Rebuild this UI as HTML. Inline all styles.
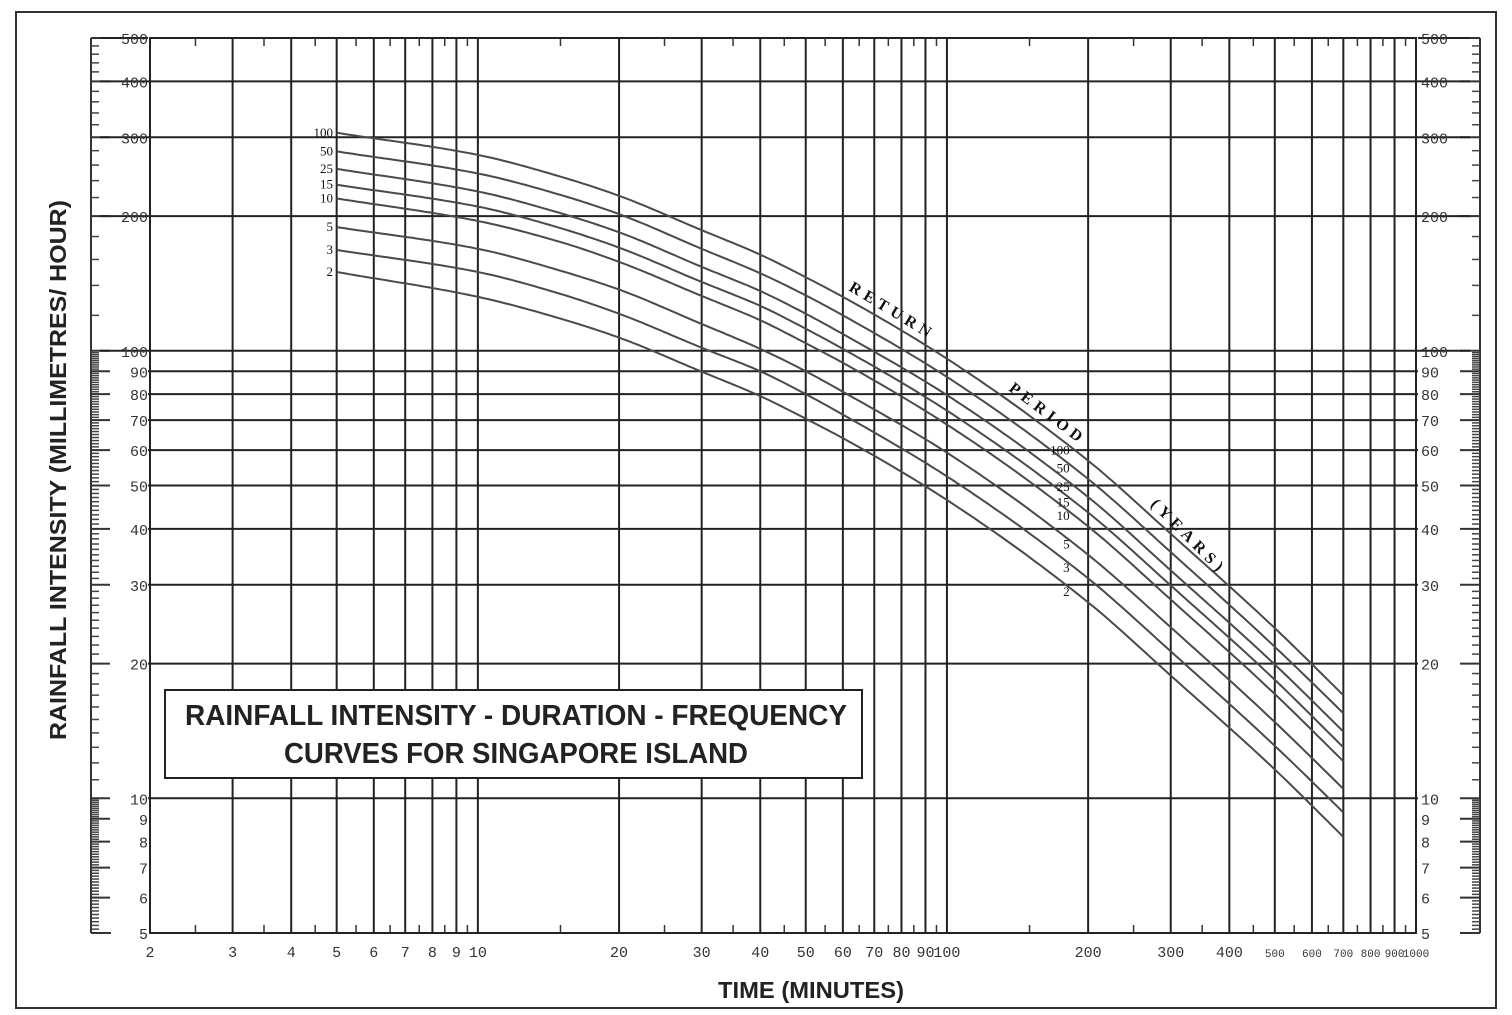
<!DOCTYPE html>
<html><head><meta charset="utf-8">
<style>
html,body{margin:0;padding:0;background:#fff;}
svg{display:block;}
.tk{font-family:"Liberation Mono",monospace;font-size:15px;fill:#333;}
.cl{font-family:"Liberation Serif",serif;font-size:13px;fill:#111;}
.rp{font-family:"Liberation Serif",serif;font-size:16px;font-weight:bold;fill:#111;letter-spacing:5px;}
</style></head>
<body>
<svg id="chart" width="1512" height="1015" viewBox="0 0 1512 1015" xmlns="http://www.w3.org/2000/svg">
<rect x="16" y="12" width="1480" height="996" fill="#fff" stroke="#333" stroke-width="2"/>
<g id="grid"></g>
<g id="curves"></g>
<g id="labels"></g>
<text class="rp" transform="translate(848,290) rotate(31)">RETURN</text>
<text class="rp" transform="translate(1008,390) rotate(37)">PERIOD</text>
<text class="rp" transform="translate(1150,505) rotate(45)">(YEARS)</text>
<g>
<rect x="165" y="690" width="697" height="88" fill="#fff" stroke="#222" stroke-width="2"/>
<text x="516" y="725" text-anchor="middle" textLength="662" lengthAdjust="spacingAndGlyphs" font-family="Liberation Sans, sans-serif" font-size="29" font-weight="bold" fill="#222">RAINFALL INTENSITY - DURATION -  FREQUENCY</text>
<text x="516" y="763" text-anchor="middle" textLength="464" lengthAdjust="spacingAndGlyphs" font-family="Liberation Sans, sans-serif" font-size="29" font-weight="bold" fill="#222">CURVES FOR SINGAPORE ISLAND</text>
</g>
<text transform="translate(66,470) rotate(-90)" text-anchor="middle" textLength="540" lengthAdjust="spacingAndGlyphs" font-family="Liberation Sans, sans-serif" font-size="23" font-weight="bold" fill="#222">RAINFALL INTENSITY  (MILLIMETRES/  HOUR)</text>
<text x="811" y="998" text-anchor="middle" textLength="186" lengthAdjust="spacingAndGlyphs" font-family="Liberation Sans, sans-serif" font-size="23" font-weight="bold" fill="#222">TIME (MINUTES)</text>
</svg>
<script>
const durations = [5,10,15,20,30,40,50,60,100,200,300,500,700];
const periods = ["100","50","25","15","10","5","3","2"];
const s100 = [307,274,245,222,186,164,146,132,96,56.8,39,24,17.0];
const s50  = [279,249,223,202,169,149,133,120,87.4,51.7,35.5,21.8,15.5];
const s25  = [255,227,203,184,154,136,121,109,79.6,47.1,32.3,19.9,14.1];
const s15  = [235,210,188,170,142.5,126,112,101,73.5,43.5,29.9,18.4,13.0];
const s10  = [219,195,175,158,132.6,117,104,94,68.4,40.5,27.8,17.1,12.1];
const s5   = [189,169,151,137,114.8,101,90,81,59.2,35.0,24.1,14.8,10.5];
const s3   = [168,150,134,121,101.6,90,80,72,52.4,31.0,21.3,13.1,9.3];
const s2   = [150,132,118,107,89.8,79.2,70.5,63.8,46.4,27.4,18.8,11.6,8.2];
const xTicks = [2,3,4,5,6,7,8,9,10,20,30,40,50,60,70,80,90,100,200,300,400,500,600,700,800,900,1000];
const yTicks = [5,6,7,8,9,10,20,30,40,50,60,70,80,90,100,200,300,400,500];
const midLabelDur = 190;

const NS="http://www.w3.org/2000/svg";
const X0=150,X1=1416,Y0=933,Y1=38;
function xs(t){return X0+(X1-X0)*Math.log10(t/2)/Math.log10(500);}
function ys(v){return Y0-(Y0-Y1)*Math.log10(v/5)/2;}
function mk(tag,attrs,parent){const e=document.createElementNS(NS,tag);for(const k in attrs)e.setAttribute(k,attrs[k]);parent.appendChild(e);return e;}
const grid=document.getElementById('grid');
const fr=mk('rect',{x:X0,y:Y1,width:X1-X0,height:Y0-Y1,fill:'none',stroke:'#222','stroke-width':2},grid);


[91,1480].forEach((sx,i)=>{
  const l=mk('line',{x1:sx,y1:Y1,x2:sx,y2:Y0,stroke:'#333','stroke-width':2},grid);
  
  
  const ticks=[];
  for(let v=5.1;v<10;v+=0.1)ticks.push(v);
  for(let v=11;v<100;v+=1)ticks.push(v);
  for(let v=120;v<500;v+=20)ticks.push(v);
  ticks.forEach(v=>{const y=ys(v);mk('line',{x1:sx,y1:y,x2:i?sx-8:sx+8,y2:y,stroke:'#444','stroke-width':1.5},grid);});
  mk('line',{x1:sx,y1:Y0,x2:i?sx-20:sx+20,y2:Y0,stroke:'#333','stroke-width':2},grid);
});
yTicks.forEach(v=>{
  const y=ys(v);
  if([10,20,30,40,50,60,70,80,90,100,200,300,400].includes(v)){
    const l=mk('line',{x1:148,y1:y,x2:1418,y2:y,stroke:'#222','stroke-width':2},grid);
    
    
  }
  mk('line',{x1:91,y1:y,x2:110,y2:y,stroke:'#333','stroke-width':2},grid);
  mk('line',{x1:1460,y1:y,x2:1480,y2:y,stroke:'#333','stroke-width':2},grid);
  if(v>=100){mk('line',{x1:100,y1:y,x2:148,y2:y,stroke:'#222','stroke-width':2},grid);mk('line',{x1:1418,y1:y,x2:1470,y2:y,stroke:'#222','stroke-width':2},grid);}
  const tl=mk('text',{x:148,y:y+6,'text-anchor':'end',class:'tk'},grid);tl.textContent=v;
  
  
  const tr=mk('text',{x:1421,y:y+6,'text-anchor':'start',class:'tk'},grid);tr.textContent=v;
  
  
});
xTicks.forEach(t=>{
  const x=xs(t);
  const l=mk('line',{x1:x,y1:Y1,x2:x,y2:Y0,stroke:'#222','stroke-width':2},grid);
  
  
  const small=t>=500;
  const tx=mk('text',{x:x,y:957,'text-anchor':'middle',class:'tk','font-size':small?11:15},grid);tx.textContent=t;
  if(small)tx.setAttribute('style','font-size:11px');
  
  
});
[[2.5,9.5,1],[15,95,10],[150,950,100]].forEach(([a,b,s])=>{
  for(let t=a;t<=b+1e-9;t+=s){const x=xs(t);
    mk('line',{x1:x,y1:Y1,x2:x,y2:Y1+8,stroke:'#333','stroke-width':1.5},grid);
    mk('line',{x1:x,y1:Y0,x2:x,y2:Y0-8,stroke:'#333','stroke-width':1.5},grid);}
});
// monotone cubic (PCHIP) in log-log space
function pchip(xv,yv){
  const n=xv.length,h=[],d=[],m=new Array(n);
  for(let i=0;i<n-1;i++){h.push(xv[i+1]-xv[i]);d.push((yv[i+1]-yv[i])/h[i]);}
  m[0]=d[0];m[n-1]=d[n-2];
  for(let i=1;i<n-1;i++){
    if(d[i-1]*d[i]<=0)m[i]=0;
    else{const w1=2*h[i]+h[i-1],w2=h[i]+2*h[i-1];m[i]=(w1+w2)/(w1/d[i-1]+w2/d[i]);}
  }
  return function(x){
    let i=0;while(i<n-2&&x>xv[i+1])i++;
    const t=(x-xv[i])/h[i],t2=t*t,t3=t2*t;
    return (2*t3-3*t2+1)*yv[i]+(t3-2*t2+t)*h[i]*m[i]+(-2*t3+3*t2)*yv[i+1]+(t3-t2)*h[i]*m[i+1];
  };
}
const series=[s100,s50,s25,s15,s10,s5,s3,s2];
const cg=document.getElementById('curves');
const lg=document.getElementById('labels');
const lx=durations.map(t=>Math.log10(t));
series.forEach((s,i)=>{
  const f=pchip(lx,s.map(v=>Math.log10(v)));
  let d='';
  const a0=lx[0],a1=lx[lx.length-1],N=240;
  for(let k=0;k<=N;k++){
    const u=a0+(a1-a0)*k/N;
    const t=Math.pow(10,u),v=Math.pow(10,f(u));
    d+=(k?'L':'M')+xs(t).toFixed(1)+','+ys(v).toFixed(1);
  }
  const p=mk('path',{d:d,fill:'none',stroke:'#4a4a4a','stroke-width':2},cg);
  
  
  const a=mk('text',{x:333,y:ys(s[0])+4,'text-anchor':'end',class:'cl'},lg);a.textContent=periods[i];
  
  
  const v=Math.pow(10,f(Math.log10(midLabelDur)));
  const b=mk('text',{x:xs(midLabelDur)-8,y:ys(v)+2,'text-anchor':'end',class:'cl'},lg);b.textContent=periods[i];
  
  
});
</script>
</body></html>
